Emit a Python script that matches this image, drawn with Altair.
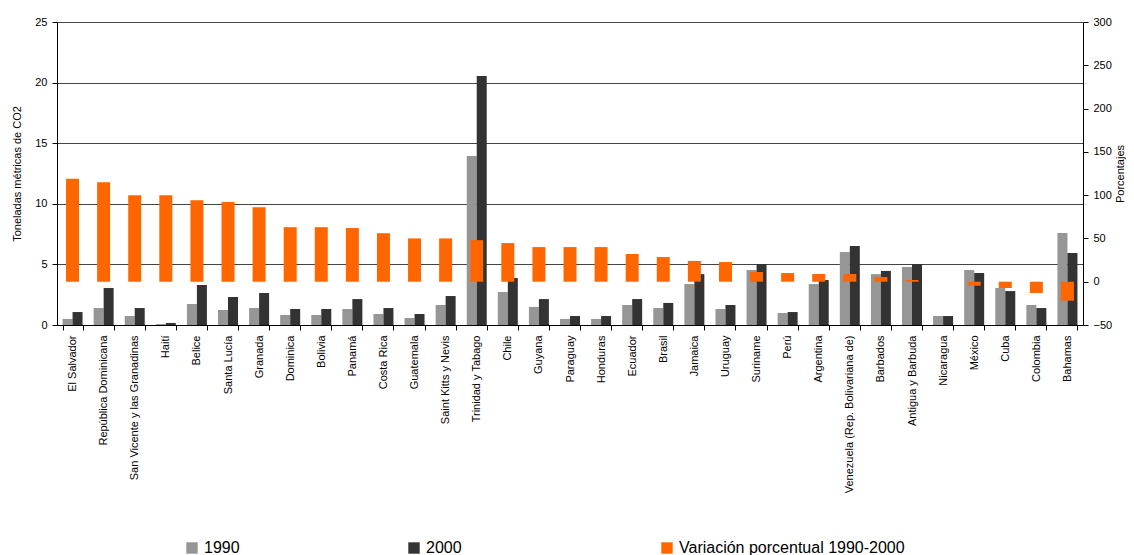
import altair as alt
import pandas as pd

countries = ["El Salvador", "República Dominicana", "San Vicente y las Granadinas", "Haití",
             "Belice", "Santa Lucía", "Granada", "Dominica", "Bolivia", "Panamá", "Costa Rica",
             "Guatemala", "Saint Kitts y Nevis", "Trinidad y Tabago", "Chile", "Guyana",
             "Paraguay", "Honduras", "Ecuador", "Brasil", "Jamaica", "Uruguay", "Suriname",
             "Perú", "Argentina", "Venezuela (Rep. Bolivariana de)", "Barbados",
             "Antigua y Barbuda", "Nicaragua", "México", "Cuba", "Colombia", "Bahamas"]

v1990 = [0.50, 1.40, 0.74, 0.08, 1.73, 1.24, 1.40, 0.83, 0.83, 1.32, 0.91,
         0.58, 1.65, 13.94, 2.72, 1.49, 0.50, 0.50, 1.65, 1.40, 3.38, 1.32, 4.54,
         0.99, 3.38, 6.02, 4.20, 4.79, 0.74, 4.54, 3.05, 1.65, 7.59]
v2000 = [1.07, 3.05, 1.40, 0.17, 3.30, 2.31, 2.64, 1.32, 1.32, 2.14, 1.40,
         0.91, 2.39, 20.54, 3.88, 2.14, 0.74, 0.74, 2.14, 1.82, 4.20, 1.65, 5.03,
         1.07, 3.71, 6.52, 4.46, 5.03, 0.74, 4.29, 2.80, 1.40, 5.94]
pct = [119, 115, 100, 100, 94, 92, 86, 63, 63, 62, 56,
       50, 50, 48, 44.6, 40, 40, 40, 32, 28.5, 24, 22.7, 11.2,
       10, 8.9, 8.9, 5.4, 2, 0, -4.6, -7.3, -13, -22]

series_names = ["1990", "2000"]
pct_name = "Variación porcentual 1990-2000"

rows = []
for c, a, b in zip(countries, v1990, v2000):
    rows.append({"pais": c, "serie": "1990", "valor": a})
    rows.append({"pais": c, "serie": "2000", "valor": b})
df_bars = pd.DataFrame(rows)
df_pct = pd.DataFrame({"pais": countries, "pct": pct, "serie": pct_name})

FONT = "Liberation Sans"

xenc = alt.X("pais:N", sort=countries, title=None,
             scale=alt.Scale(paddingInner=0.357, paddingOuter=0.1785),
             axis=alt.Axis(labelAngle=270, labelFontSize=11, labelColor="black",
                           tickBand="extent", tickSize=5, tickColor="black",
                           domainColor="black", labelPadding=5, labelLimit=300))

bars = alt.Chart(df_bars).mark_bar().encode(
    x=xenc,
    xOffset=alt.XOffset("serie:N", sort=series_names,
                        scale=alt.Scale(paddingInner=0, paddingOuter=0)),
    y=alt.Y("valor:Q", title="Toneladas métricas de CO2",
            scale=alt.Scale(domain=[0, 25], nice=False),
            axis=alt.Axis(orient="left", values=[0, 5, 10, 15, 20, 25], grid=True,
                          gridColor="#444444", gridWidth=1, labelFontSize=11,
                          labelColor="black", tickColor="black", tickSize=5,
                          domainColor="black", labelPadding=5, titleFontSize=11,
                          titleFontWeight="normal", titlePadding=12, titleColor="black")),
    color=alt.Color("serie:N",
                    scale=alt.Scale(domain=series_names, range=["#969696", "#333333"]),
                    legend=alt.Legend(orient="none", legendX=127, legendY=518,
                                      direction="horizontal", title=None,
                                      symbolType="square", symbolSize=130,
                                      symbolStrokeWidth=0, labelFontSize=16,
                                      labelColor="black", labelOffset=4,
                                      columnPadding=166, padding=0)),
)

orange = alt.Chart(df_pct).mark_bar(size=13).encode(
    x=alt.X("pais:N", sort=countries),
    y=alt.Y("pct:Q", title="Porcentajes",
            scale=alt.Scale(domain=[-50, 300], nice=False),
            axis=alt.Axis(orient="right", values=list(range(-50, 301, 50)), grid=False,
                          labelFontSize=11, labelColor="black", tickColor="black",
                          tickSize=5, domainColor="black", labelPadding=5,
                          titleFontSize=11, titleFontWeight="normal", titleAngle=270,
                          titleBaseline="top", titlePadding=3, titleColor="black")),
    fill=alt.Fill("serie:N", scale=alt.Scale(domain=[pct_name], range=["#FF6600"]),
                  legend=alt.Legend(orient="none", legendX=602, legendY=518,
                                    title=None, symbolType="square", symbolSize=130,
                                    symbolStrokeWidth=0, labelFontSize=16,
                                    labelColor="black", labelOffset=4, padding=0,
                                    labelLimit=400)),
)

chart = alt.layer(bars, orange).resolve_scale(y="independent").properties(
    width=1026, height=303,
    autosize=alt.AutoSizeParams(type="none"),
    padding={"left": 49, "top": 14, "right": 43, "bottom": 230},
).configure(font=FONT).configure_view(stroke=None)

chart.save("out.html", embed_options={"renderer": "svg", "actions": False})
